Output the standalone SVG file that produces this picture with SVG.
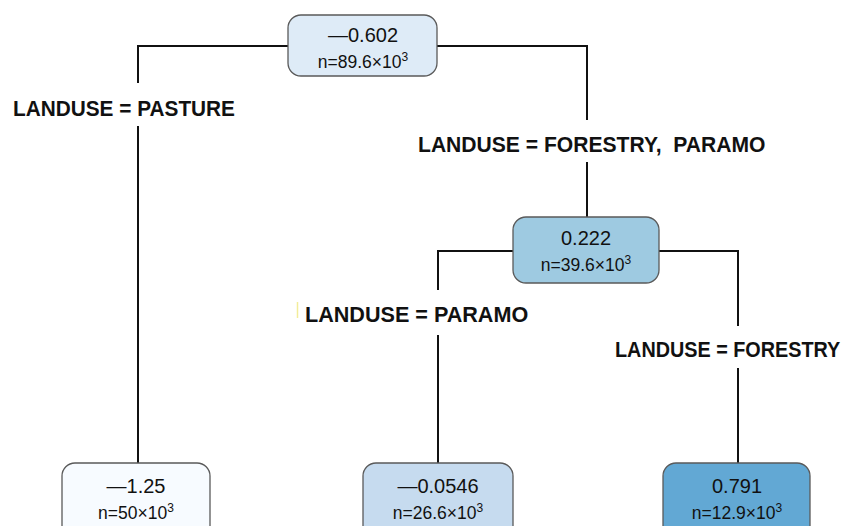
<svg xmlns="http://www.w3.org/2000/svg" width="851" height="526" viewBox="0 0 851 526">
  <style>
    .edge { stroke: #111; stroke-width: 2; fill: none; }
    .box { stroke: #5a5a5a; stroke-width: 1.3; }
    .val { font-family: "Liberation Sans", Arial, sans-serif; font-size: 20px; fill: #111; text-anchor: middle; }
    .cnt { font-family: "Liberation Sans", Arial, sans-serif; font-size: 17.5px; fill: #111; text-anchor: middle; }
    .sup { font-size: 12px; }
    .rule { font-family: "Liberation Sans", Arial, sans-serif; font-size: 20px; font-weight: bold; fill: #111; }
  </style>
  <rect width="851" height="526" fill="#ffffff"/>

  <!-- connectors -->
  <g id="connectors">
    <path class="edge" d="M288 46 H138 V83 M138 126 V463"/>
    <path class="edge" d="M437 46 H587 V120 M587 162 V217"/>
    <path class="edge" d="M513 251 H438 V290 M438 335 V463"/>
    <path class="edge" d="M659 251 H738 V326 M738 368 V463"/>
  </g>

  <!-- split labels: bold caps, stretched a little vertically -->
  <g id="labels">
    <text class="rule" transform="translate(13 116) scale(1.04 1.14)">LANDUSE = PASTURE</text>
    <text class="rule" transform="translate(418 152) scale(1.055 1.14)" xml:space="preserve">LANDUSE = FORESTRY,  PARAMO</text>
    <text class="rule" transform="translate(305 322) scale(1.08 1.14)">LANDUSE = PARAMO</text>
    <text class="rule" transform="translate(615 357) scale(0.99 1.14)">LANDUSE = FORESTRY</text>
    <line x1="297.5" y1="302" x2="297.5" y2="318" stroke="#f3ec9a" stroke-width="1.5"/>
  </g>

  <!-- root -->
  <g id="node-root">
    <rect class="box" x="288" y="15" width="149" height="61" rx="13" fill="#deebf7"/>
    <text class="val" x="363" y="42">—0.602</text>
    <text class="cnt" x="363" y="68">n=89.6×10<tspan class="sup" dy="-7">3</tspan></text>
  </g>

  <!-- forestry / paramo split -->
  <g id="node-forestry-paramo">
    <rect class="box" x="513" y="217" width="146" height="66" rx="13" fill="#9ecae1"/>
    <text class="val" x="586" y="245">0.222</text>
    <text class="cnt" x="586" y="271">n=39.6×10<tspan class="sup" dy="-7">3</tspan></text>
  </g>

  <!-- leaves -->
  <g id="node-pasture">
    <rect class="box" x="62" y="463" width="148" height="80" rx="13" fill="#f7fbff"/>
    <text class="val" x="136" y="493">—1.25</text>
    <text class="cnt" x="136" y="519">n=50×10<tspan class="sup" dy="-7">3</tspan></text>
  </g>

  <g id="node-paramo">
    <rect class="box" x="363" y="463" width="150" height="80" rx="13" fill="#c6dbef"/>
    <text class="val" x="438" y="493">—0.0546</text>
    <text class="cnt" x="438" y="519">n=26.6×10<tspan class="sup" dy="-7">3</tspan></text>
  </g>

  <g id="node-forestry">
    <rect class="box" x="663" y="463" width="147" height="80" rx="13" fill="#62a8d4"/>
    <text class="val" x="737" y="493">0.791</text>
    <text class="cnt" x="737" y="519">n=12.9×10<tspan class="sup" dy="-7">3</tspan></text>
  </g>
</svg>
